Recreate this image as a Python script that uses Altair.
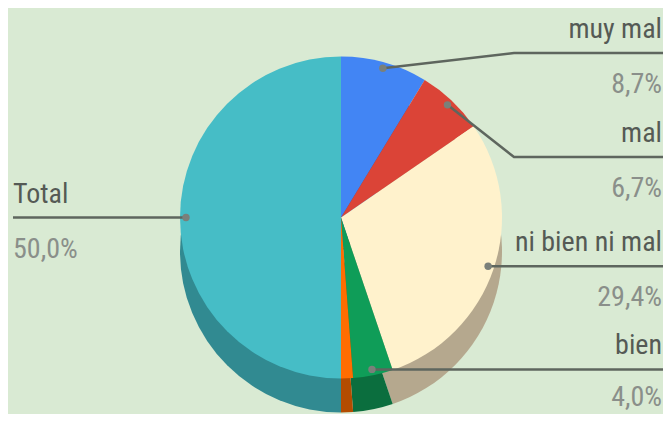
import math
import altair as alt
import pandas as pd

# ---- data ----
categories = ["muy mal", "mal", "ni bien ni mal", "bien", "muy bien", "Total"]
values = [8.7, 6.7, 29.4, 4.0, 1.2, 50.0]
show_label = [True, True, True, True, False, True]

# ---- styles ----
top_colors = ["#4285F4", "#DB4437", "#FFF2CC", "#0F9D58", "#FF6D01", "#46BDC6"]
side_colors = ["#2E5DAA", "#992F26", "#B5A88E", "#0B6E3E", "#B34C00", "#318A91"]
BG = "#D9EAD3"
FONT = "Roboto Condensed, Liberation Sans Narrow, DejaVu Sans Condensed, Roboto"

# ---- layout (chart pixel space) ----
W, H = 655, 406
CX, CY, R, DEPTH = 332, 209.5, 161, 34
R_DOT = 155
RIGHT_X, LEFT_X, BEND_X = 653, 4, 505
LINE_Y_OVERRIDE = {"muy mal": 45, "mal": 149}
TEXT_DY, PCT_DY = -15, 40
PCT_MAX_Y = H - 8

total = sum(values)
rows, dots, segs, texts = [], [], [], []
cum = 0.0
for i, (c, v) in enumerate(zip(categories, values)):
    rows.append({"cat": c, "value": v, "idx": i,
                 "top": top_colors[i], "side": side_colors[i]})
    mid = (cum + v / 2) / total * 2 * math.pi
    cum += v
    if not show_label[i]:
        continue
    dx = CX + R_DOT * math.sin(mid)
    dy = CY - R_DOT * math.cos(mid)
    dots.append({"cat": c, "x": dx, "y": dy})
    pct = f"{v:.1f}".replace(".", ",") + "%"
    right = math.sin(mid) > 0
    ly = LINE_Y_OVERRIDE.get(c, dy)
    if right:
        pts = [(dx, dy)]
        if c in LINE_Y_OVERRIDE:
            pts.append((BEND_X, ly))
        pts.append((W, ly))
        tx, al = RIGHT_X, "right"
    else:
        pts = [(dx, dy), (LEFT_X, ly)]
        tx, al = LEFT_X, "left"
    for k, (px, py) in enumerate(pts):
        segs.append({"cat": c, "k": k, "x": px, "y": py})
    texts.append({"cat": c, "x": tx, "y": ly + TEXT_DY, "t": c, "al": al, "kind": "label"})
    texts.append({"cat": c, "x": tx, "y": min(ly + PCT_DY, PCT_MAX_Y), "t": pct,
                  "al": al, "kind": "pct"})

df = pd.DataFrame(rows)
dots_df = pd.DataFrame(dots)
segs_df = pd.DataFrame(segs)
texts_df = pd.DataFrame(texts)

theta = alt.Theta("value:Q", stack=True)
order = alt.Order("idx:Q", sort="ascending")

side = alt.Chart(df).mark_arc(radius=R, strokeWidth=0).encode(
    theta=theta, order=order,
    color=alt.Color("side:N", scale=None),
    x=alt.value(CX), y=alt.value(CY + DEPTH),
)
top = alt.Chart(df).mark_arc(radius=R, strokeWidth=0).encode(
    theta=theta, order=order,
    color=alt.Color("top:N", scale=None),
    x=alt.value(CX), y=alt.value(CY),
)

X = alt.X("x:Q", scale=None, axis=None)
Y = alt.Y("y:Q", scale=None, axis=None)

lines = alt.Chart(segs_df).mark_line(color="#5E665E", strokeWidth=2.5).encode(
    x=X, y=Y, detail="cat:N", order="k:Q"
)
pts = alt.Chart(dots_df).mark_circle(color="#7A807A", size=55, opacity=1).encode(x=X, y=Y)

def text_layer(kind, align, color):
    d = texts_df[(texts_df.kind == kind) & (texts_df.al == align)]
    return alt.Chart(d).mark_text(
        align=align, baseline="alphabetic", font=FONT, fontSize=28, color=color
    ).encode(x=X, y=Y, text="t:N")

layers = [side, top, lines, pts]
for al in ["right", "left"]:
    layers.append(text_layer("label", al, "#555A55"))
    layers.append(text_layer("pct", al, "#8A8F8A"))

chart = alt.layer(*layers).properties(
    width=W, height=H, background=BG,
    autosize=alt.AutoSizeParams(type="fit", contains="padding"),
    padding=0,
).configure_view(stroke=None)

chart.save("out.html", embed_options={"renderer": "svg", "actions": False})
